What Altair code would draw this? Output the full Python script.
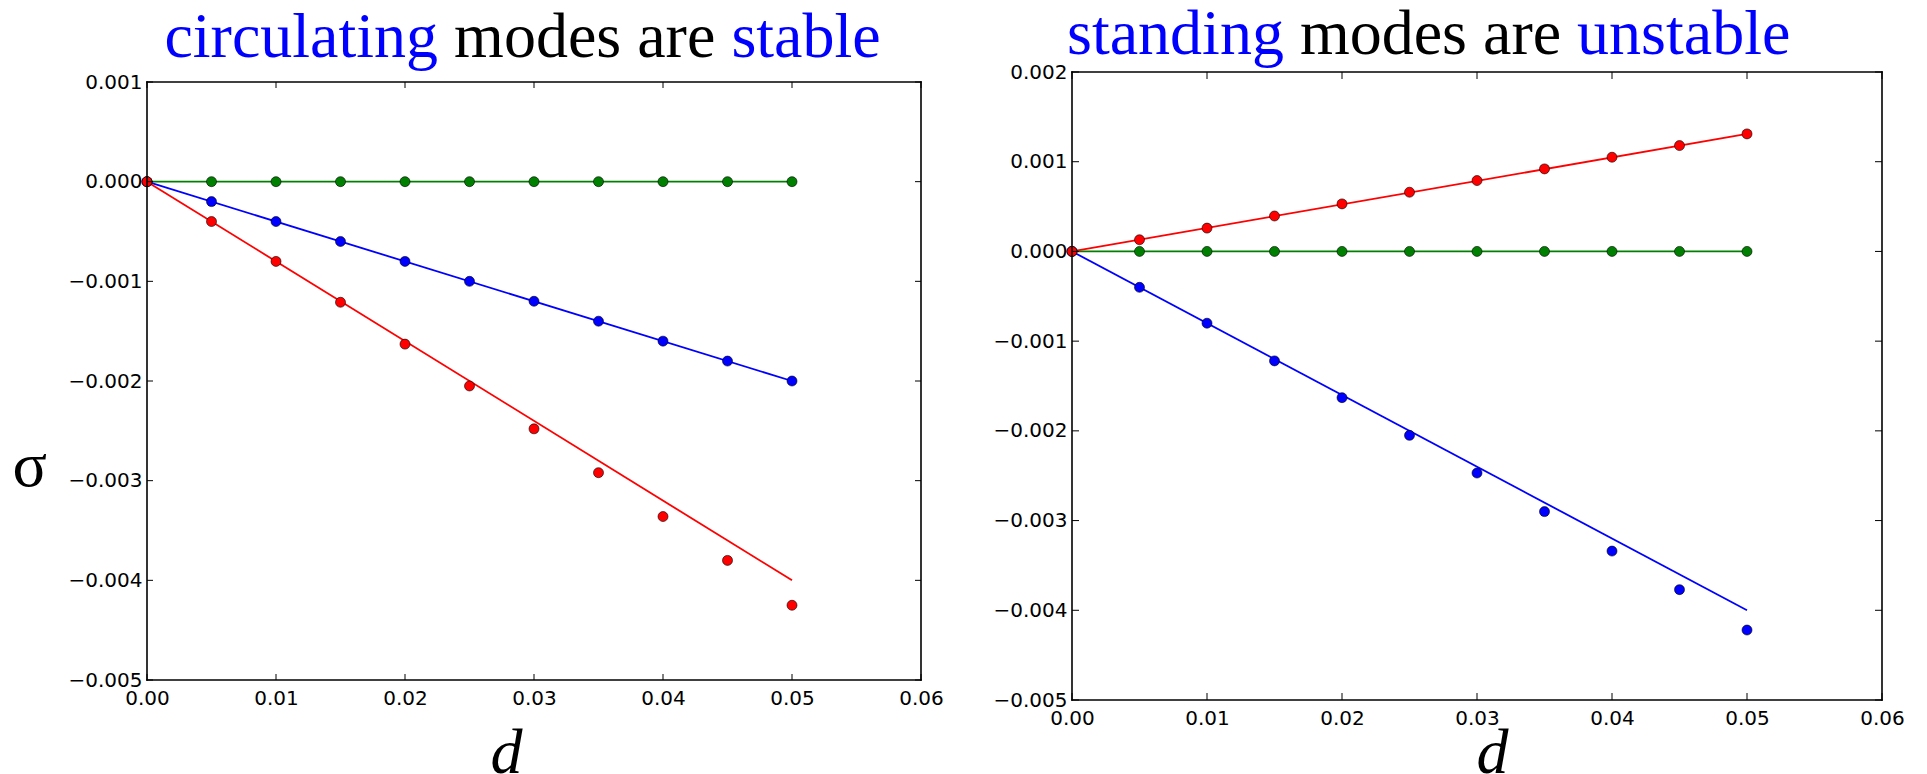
import altair as alt
import pandas as pd

# ---------------- data ----------------
d_values = [0.0, 0.005, 0.01, 0.015, 0.02, 0.025, 0.03, 0.035, 0.04, 0.045, 0.05]

# left panel: circulating modes
circ_green = [0.0, 0.0, 0.0, 0.0, 0.0, 0.0, 0.0, 0.0, 0.0, 0.0, 0.0]
circ_blue = [0.0, -0.0002, -0.0004, -0.0006, -0.0008, -0.0010, -0.0012, -0.0014, -0.0016, -0.0018, -0.0020]
circ_red = [0.0, -0.0004, -0.0008, -0.00121, -0.00163, -0.00205, -0.00248, -0.00292, -0.00336, -0.0038, -0.00425]

# right panel: standing modes
stand_green = [0.0, 0.0, 0.0, 0.0, 0.0, 0.0, 0.0, 0.0, 0.0, 0.0, 0.0]
stand_red = [0.0, 0.00013, 0.00026, 0.000395, 0.00053, 0.00066, 0.00079, 0.00092, 0.00105, 0.00118, 0.00131]
stand_blue = [0.0, -0.0004, -0.0008, -0.00122, -0.00163, -0.00205, -0.00247, -0.0029, -0.00334, -0.00377, -0.00422]

# straight fit lines (end points)
fit_d = [0.0, 0.05]
circ_fit_green = [0.0, 0.0]
circ_fit_blue = [0.0, -0.002]
circ_fit_red = [0.0, -0.004]
stand_fit_green = [0.0, 0.0]
stand_fit_red = [0.0, 0.00131]
stand_fit_blue = [0.0, -0.004]

x_ticks = [0.0, 0.01, 0.02, 0.03, 0.04, 0.05, 0.06]
circ_y_ticks = [-0.005, -0.004, -0.003, -0.002, -0.001, 0.0, 0.001]
stand_y_ticks = [-0.005, -0.004, -0.003, -0.002, -0.001, 0.0, 0.001, 0.002]

series_names = ["green", "blue", "red"]
series_colors = ["#008000", "#0000FF", "#FF0000"]

circ_title = [("circulating", "#0000FF"), ("modes are", "#000000"), ("stable", "#0000FF")]
stand_title = [("standing", "#0000FF"), ("modes are", "#000000"), ("unstable", "#0000FF")]

SERIF = "Liberation Serif"
SANS = "DejaVu Sans"
BIG = 64


def long_df(xs, series):
    rows = []
    for name, vals in series:
        for x, v in zip(xs, vals):
            rows.append({"d": x, "sigma": v, "series": name})
    return pd.DataFrame(rows)


def panel(points, fits, y_ticks, y_dom, W, H, top_off, tick_len, title_pieces, title_xs,
          title_y, y_title, d_title_x, d_title_y):
    HT = H + top_off
    color = alt.Color("series:N", scale=alt.Scale(domain=series_names, range=series_colors),
                      legend=None)
    xscale = alt.Scale(domain=[0, 0.06], nice=False, zero=False)
    yscale = alt.Scale(domain=y_dom, nice=False, zero=False, range=[HT, top_off])

    xaxis = alt.Axis(values=x_ticks, format=".2f", titleFont=SERIF,
                     titleFontStyle="italic", titleFontWeight="normal", titleFontSize=BIG,
                     titleColor="black", titleAlign="center", titleBaseline="alphabetic",
                     titleX=d_title_x, titleY=d_title_y, titleAngle=0)
    X = alt.X("d:Q", scale=xscale, axis=xaxis, title="d")
    if y_title is not None:
        yaxis = alt.Axis(values=y_ticks, format=".3f", titleFont=SERIF,
                         titleFontWeight="normal", titleFontSize=BIG, titleColor="black",
                         titleAngle=0, titleAlign="left", titleBaseline="alphabetic",
                         titleX=y_title[0], titleY=y_title[1])
        Y = alt.Y("sigma:Q", scale=yscale, axis=yaxis, title="σ")
    else:
        yaxis = alt.Axis(values=y_ticks, format=".3f")
        Y = alt.Y("sigma:Q", scale=yscale, axis=yaxis, title=None)

    lines = alt.Chart(long_df(fit_d, fits)).mark_line(strokeWidth=1.8).encode(
        x=X, y=Y, color=color, detail="series:N",
    )
    pts = alt.Chart(long_df(d_values, points)).mark_circle(
        size=100, opacity=1, stroke="black", strokeWidth=0.6
    ).encode(x=X, y=Y, color=color)

    ydf = pd.DataFrame({"sigma": y_ticks})
    xdf = pd.DataFrame({"d": x_ticks})
    tick_y_l = alt.Chart(ydf).mark_rule(color="black", strokeWidth=1).encode(
        y=Y, x=alt.value(0), x2=alt.value(tick_len))
    tick_y_r = alt.Chart(ydf).mark_rule(color="black", strokeWidth=1).encode(
        y=Y, x=alt.value(W - tick_len), x2=alt.value(W))
    tick_x_b = alt.Chart(xdf).mark_rule(color="black", strokeWidth=1).encode(
        x=X, y=alt.value(HT - tick_len), y2=alt.value(HT))
    tick_x_t = alt.Chart(xdf).mark_rule(color="black", strokeWidth=1).encode(
        x=X, y=alt.value(top_off), y2=alt.value(top_off + tick_len))

    one = pd.DataFrame({"k": [0]})
    frame_style = dict(color="black", strokeWidth=1.6, strokeCap="square")
    frame = [
        alt.Chart(one).mark_rule(**frame_style).encode(
            x=alt.value(0), x2=alt.value(W), y=alt.value(top_off)),
        alt.Chart(one).mark_rule(**frame_style).encode(
            x=alt.value(0), x2=alt.value(W), y=alt.value(HT)),
        alt.Chart(one).mark_rule(**frame_style).encode(
            x=alt.value(0), y=alt.value(top_off), y2=alt.value(HT)),
        alt.Chart(one).mark_rule(**frame_style).encode(
            x=alt.value(W), y=alt.value(top_off), y2=alt.value(HT)),
    ]

    texts = []
    for (txt, col), tx in zip(title_pieces, title_xs):
        texts.append(
            alt.Chart(pd.DataFrame({"t": [txt]})).mark_text(
                font=SERIF, fontSize=BIG, color=col, align="left", baseline="alphabetic"
            ).encode(x=alt.value(tx), y=alt.value(title_y), text="t:N")
        )

    return alt.layer(lines, pts, tick_y_l, tick_y_r, tick_x_b, tick_x_t, *frame, *texts
                     ).properties(width=W, height=HT)


left = panel(
    points=[("green", circ_green), ("blue", circ_blue), ("red", circ_red)],
    fits=[("green", circ_fit_green), ("blue", circ_fit_blue), ("red", circ_fit_red)],
    y_ticks=circ_y_ticks, y_dom=[-0.005, 0.001], W=774, H=598, top_off=10, tick_len=6,
    title_pieces=circ_title, title_xs=[17.4, 307.1, 584.4], title_y=-15,
    y_title=(-135, 413), d_title_x=359, d_title_y=92,
)
right = panel(
    points=[("green", stand_green), ("blue", stand_blue), ("red", stand_red)],
    fits=[("green", stand_fit_green), ("blue", stand_fit_blue), ("red", stand_fit_red)],
    y_ticks=stand_y_ticks, y_dom=[-0.005, 0.002], W=810, H=628, top_off=0, tick_len=7,
    title_pieces=stand_title, title_xs=[-5, 227.9, 505.1], title_y=-18,
    y_title=None, d_title_x=420, d_title_y=72,
)

chart = alt.hconcat(left, right, spacing=48).properties(
    padding={"left": 3, "top": -6, "right": 0, "bottom": 0}
).configure_view(
    stroke="transparent"
).configure_axis(
    labelFont=SANS, labelFontSize=20, labelColor="black", ticks=False, tickSize=0,
    domain=False, grid=False,
).configure_axisX(
    labelPadding=8, labelFlush=False,
).configure_axisY(
    labelPadding=5,
)

chart.save("out.html", embed_options={"renderer": "svg", "actions": False})
